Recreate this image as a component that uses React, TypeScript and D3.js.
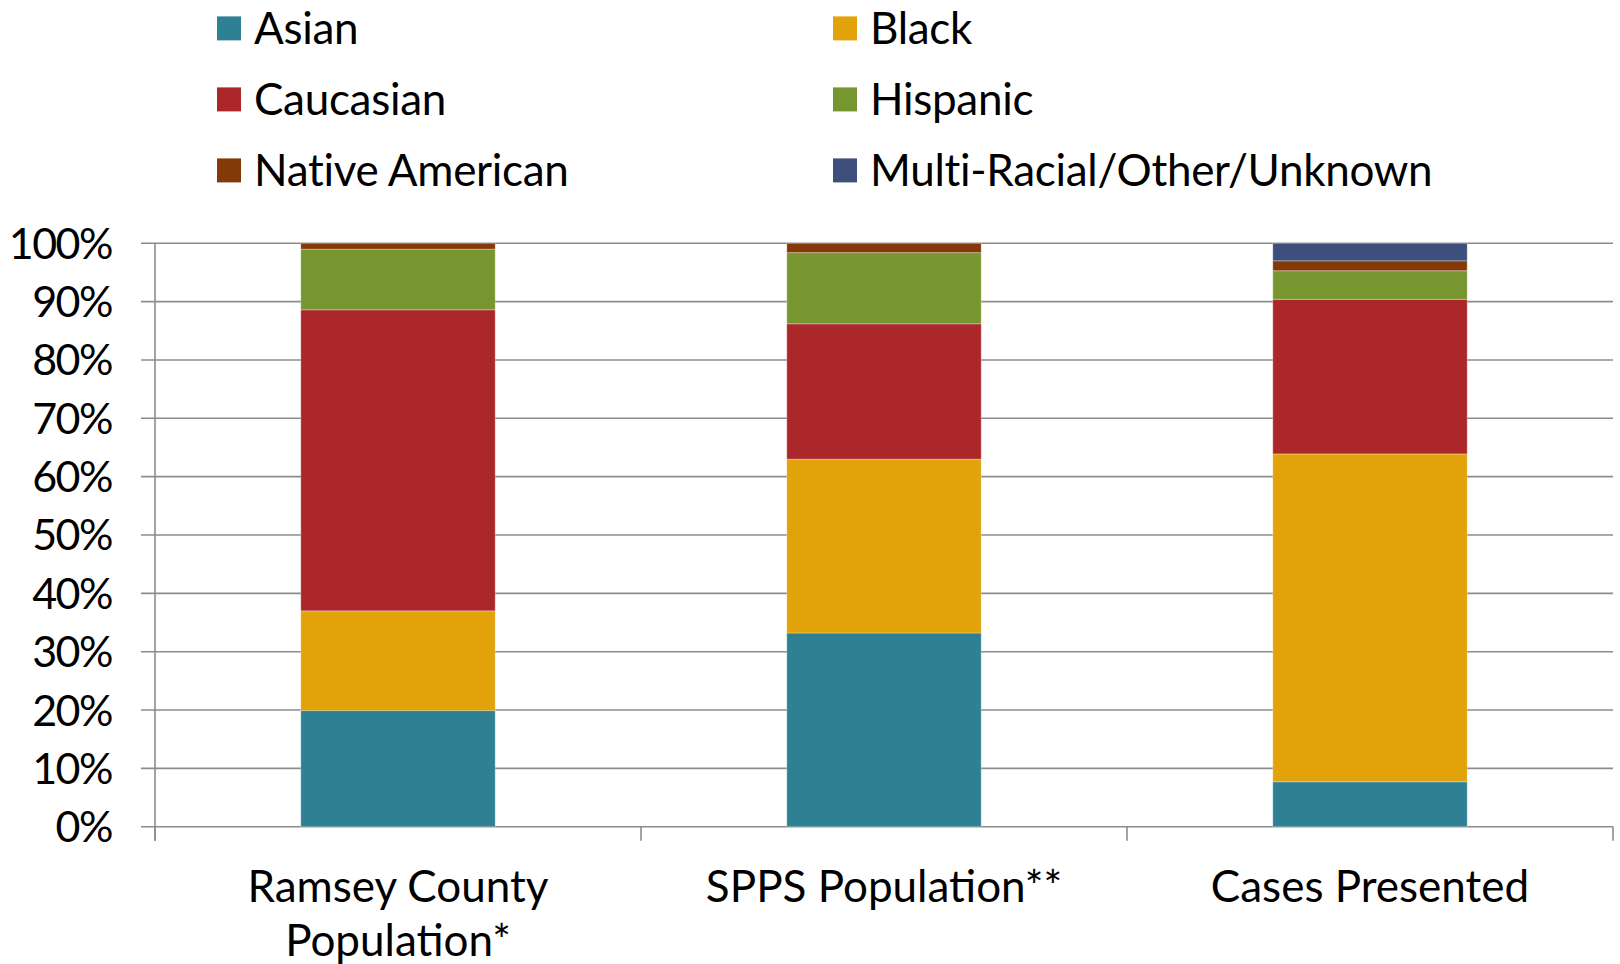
import React from 'react';
import * as d3 from 'd3';

const categories = ['Ramsey County Population*', 'SPPS Population**', 'Cases Presented'];
const categoryLines = [['Ramsey County', 'Population*'], ['SPPS Population**'], ['Cases Presented']];
const seriesNames = ['Asian', 'Black', 'Caucasian', 'Hispanic', 'Native American', 'Multi-Racial/Other/Unknown'];
const asian = [19.9, 33.2, 7.7];
const black = [17.1, 29.8, 56.2];
const caucasian = [51.6, 23.2, 26.5];
const hispanic = [10.4, 12.2, 4.9];
const nativeAmerican = [1.0, 1.6, 1.7];
const multiRacial = [0, 0, 3.0];
const seriesColors = ['#2F8093', '#E1A309', '#AB272A', '#77962F', '#843A08', '#3E4F7B'];
const yTicks = [0, 10, 20, 30, 40, 50, 60, 70, 80, 90, 100];

const W = 1620;
const H = 964;
const plotLeft = 155;
const plotRight = 1613;
const plotTop = 243.3;
const plotBottom = 826.7;
const FONT = 'Lato, "Open Sans", sans-serif';
const FS = 44;

export default function App() {
  const seriesValues = [asian, black, caucasian, hispanic, nativeAmerican, multiRacial];
  const rows = categories.map((c, i) => {
    const r: any = { category: c };
    seriesNames.forEach((s, k) => (r[s] = seriesValues[k][i]));
    return r;
  });
  const stacked = d3.stack().keys(seriesNames)(rows);

  const x = d3.scaleBand().domain(categories).range([plotLeft, plotRight]).paddingInner(0.6).paddingOuter(0.3);
  const y = d3.scaleLinear().domain([0, 100]).range([plotBottom, plotTop]);
  const step = x.step();
  const boundaries = d3.range(categories.length + 1).map((i) => plotLeft + i * step);

  const legendCols = [217, 833];
  const legendRow0 = 28.4;
  const legendRowGap = 71;

  return (
    <svg width={W} height={H} style={{ position: 'absolute', left: 0, top: 0, background: '#fff' }} fontFamily={FONT}>
      {/* legend */}
      {seriesNames.map((s, i) => {
        const col = i % 2;
        const row = Math.floor(i / 2);
        const cx = legendCols[col];
        const cy = legendRow0 + row * legendRowGap;
        return (
          <g key={s}>
            <rect x={cx} y={cy - 12} width={24} height={24} fill={seriesColors[i]} />
            <text x={cx + 37} y={cy} dy="0.36em" fontSize={FS} fill="#000" letterSpacing={-0.3}>{s}</text>
          </g>
        );
      })}
      {/* gridlines */}
      {yTicks.map((t) => (
        <line key={t} x1={plotLeft - 14} x2={plotRight} y1={y(t)} y2={y(t)} stroke="#8C8C8C" strokeWidth={1.6} />
      ))}
      {/* y axis */}
      <line x1={plotLeft} x2={plotLeft} y1={plotTop} y2={plotBottom + 14} stroke="#8C8C8C" strokeWidth={1.6} />
      {boundaries.map((b, i) => (
        <line key={i} x1={b} x2={b} y1={plotBottom} y2={plotBottom + 14} stroke="#8C8C8C" strokeWidth={1.6} />
      ))}
      {/* bars */}
      {stacked.map((layer, k) => (
        <g key={layer.key} fill={seriesColors[k]}>
          {layer.map((d, i) => {
            const h = y(d[0]) - y(d[1]);
            if (h <= 0) return null;
            return (
              <rect key={i} x={x(categories[i])} y={y(d[1])} width={x.bandwidth()} height={h}
                stroke="rgba(255,255,255,0.3)" strokeWidth={1} />
            );
          })}
        </g>
      ))}
      {/* y labels */}
      {yTicks.map((t) => (
        <text key={t} x={112} y={y(t)} dy="0.36em" textAnchor="end" fontSize={43} letterSpacing={-1.5} fill="#000">{t}%</text>
      ))}
      {/* x labels */}
      {categories.map((c, i) => (
        <text key={c} x={(x(c) as number) + x.bandwidth() / 2} textAnchor="middle" fontSize={FS} fill="#000">
          {categoryLines[i].map((line, j) => (
            <tspan key={j} x={(x(c) as number) + x.bandwidth() / 2} y={901.7 + j * 54.3}>{line}</tspan>
          ))}
        </text>
      ))}
    </svg>
  );
}
